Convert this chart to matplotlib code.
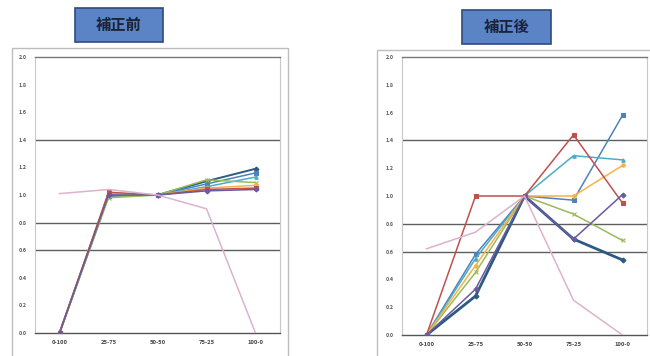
import matplotlib
matplotlib.use("Agg")
import matplotlib.pyplot as plt
from matplotlib.patches import Rectangle

plt.rcParams['font.family'] = ['Noto Sans CJK JP', 'DejaVu Sans']

W, H = 650, 356

categories = ['0-100', '25-75', '50-50', '75-25', '100-0']
yticks = [0.0, 0.2, 0.4, 0.6, 0.8, 1.0, 1.2, 1.4, 1.6, 1.8, 2.0]

# series colours and markers (same order in both charts)
colors = ['#2C5A82', '#4F81BD', '#4BACC6', '#9BBB59', '#F7B246', '#C0504D', '#6A5A9E', '#DDB2CC']
markers = ['D', 's', '^', 'x', 'o', 's', 'D', None]

# before correction
before = [
    [0.0, 1.00, 1.0, 1.10, 1.19],
    [0.0, 0.99, 1.0, 1.08, 1.16],
    [0.0, 1.00, 1.0, 1.06, 1.13],
    [0.0, 0.98, 1.0, 1.11, 1.09],
    [0.0, 1.01, 1.0, 1.05, 1.07],
    [0.0, 1.02, 1.0, 1.04, 1.05],
    [0.0, 1.00, 1.0, 1.03, 1.04],
    [1.01, 1.04, 1.0, 0.90, 0.0],
]

# after correction
after = [
    [0.0, 0.28, 1.0, 0.69, 0.54],
    [0.0, 0.58, 1.0, 0.97, 1.58],
    [0.0, 0.55, 1.0, 1.29, 1.26],
    [0.0, 0.45, 1.0, 0.87, 0.68],
    [0.0, 0.50, 1.0, 1.00, 1.22],
    [0.0, 1.00, 1.0, 1.44, 0.95],
    [0.0, 0.33, 1.0, 0.69, 1.01],
    [0.62, 0.74, 1.0, 0.25, 0.0],
]

fig = plt.figure(figsize=(W / 100, H / 100), dpi=100)


def px_axes(x0, x1, ytop, ybot):
    return fig.add_axes([x0 / W, (H - ybot) / H, (x1 - x0) / W, (ybot - ytop) / H])


def px_rect(x0, y0, x1, y1, **kw):
    fig.patches.append(Rectangle((x0 / W, (H - y1) / H), (x1 - x0) / W, (y1 - y0) / H,
                                 transform=fig.transFigure, clip_on=False, **kw))


def title_box(x0, y0, x1, y1, text):
    px_rect(x0, y0, x1, y1, facecolor='#5A84C6', edgecolor='#2F4B7A', lw=1.2)
    fig.text((x0 + x1) / 2 / W, (H - (y0 + y1) / 2) / H, text, ha='center', va='center',
             fontsize=11, fontweight='bold', color='#1A2436')


def draw(ax, series, lw_first):
    for i, vals in enumerate(series):
        lw = lw_first if i == 0 else 1.1
        ax.plot(range(len(categories)), vals, color=colors[i], lw=lw,
                marker=markers[i], ms=2.5, mew=0.8, zorder=3)
    ax.set_xlim(-0.5, 4.5)
    ax.set_ylim(0, 2.0)
    ax.set_yticks(yticks)
    ax.set_yticklabels([f'{v:.1f}' for v in yticks], fontsize=3.8,
                       fontweight='bold', color='#555555')
    ax.set_xticks(range(len(categories)))
    ax.set_xticklabels(categories, fontsize=4.2, fontweight='bold', color='#444444')
    ax.tick_params(axis='y', length=0, pad=6)
    ax.tick_params(axis='x', length=0, pad=5)
    for g in (0.6, 0.8, 1.4):
        ax.axhline(g, color='#5E5E5E', lw=1.0, zorder=1)
    for side in ('left', 'right'):
        ax.spines[side].set_color('#C8C8C8')
        ax.spines[side].set_linewidth(0.8)
    ax.spines['top'].set_color('#777777')
    ax.spines['top'].set_linewidth(1.0)
    ax.spines['bottom'].set_color('#555555')
    ax.spines['bottom'].set_linewidth(1.0)


# chart frames
px_rect(12, 48, 288, 362, fill=False, edgecolor='#BDBDBD', lw=1.0)
px_rect(377, 50, 660, 362, fill=False, edgecolor='#BDBDBD', lw=1.0)

ax1 = px_axes(35, 280, 57, 333)
draw(ax1, before, 1.4)
ax2 = px_axes(402, 647, 57, 335)
draw(ax2, after, 2.0)

title_box(75, 8, 163, 42, '補正前')
title_box(462, 10, 551, 44, '補正後')

fig.savefig('out.png', dpi=100)
